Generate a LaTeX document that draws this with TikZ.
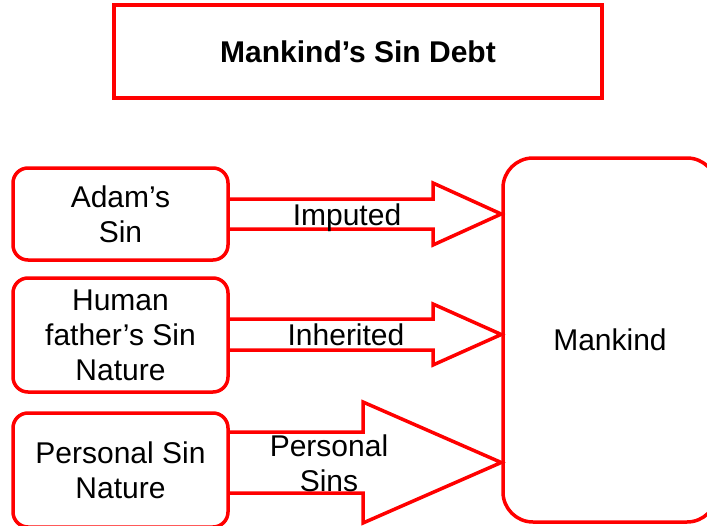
\documentclass[tikz,border=0pt]{standalone}
\usepackage{fontspec}
\setmainfont{Liberation Sans}
\usetikzlibrary{calc}
\definecolor{red1}{HTML}{FF0000}

\begin{document}
\begin{tikzpicture}[x=1pt, y=-1pt, line width=3.5pt, align=center,
  font=\fontsize{30}{35}\selectfont,
  box/.style={draw=red1, rounded corners=15pt, inner sep=0pt},
  blockarrow/.style={draw=red1, line join=miter}]
\clip (0,0) rectangle (707,525);

% title
\node[draw=red1, inner sep=0pt, minimum width=488pt, minimum height=93pt,
  font=\fontsize{30}{35}\selectfont\bfseries] (title) at (358,51.5) {Mankind's Sin Debt};

% sources
\node[box, minimum width=215pt, minimum height=92pt] (adam) at (120.5,214) {Adam's\\Sin};
\node[box, minimum width=215pt, minimum height=114pt] (human) at (120.5,335) {Human\\father's Sin\\Nature};
\node[box, minimum width=215pt, minimum height=114pt] (personal) at (120.5,470) {Personal Sin\\Nature};

% target
\node[box, rounded corners=30pt, minimum width=214pt, minimum height=364pt] (mankind) at (610,340) {Mankind};

% arrow heads start here
\coordinate (h1) at (433,214);
\coordinate (h2) at (433,334.5);
\coordinate (h3) at (363,462.5);

\draw[blockarrow] ([yshift=15pt]adam.east) -- ([yshift=15pt]h1) -- ([yshift=31pt]h1)
  -- (mankind.west |- h1) -- ([yshift=-31pt]h1) -- ([yshift=-15pt]h1) -- ([yshift=-15pt]adam.east);
\draw[blockarrow] ([yshift=15.5pt]human.east |- h2) -- ([yshift=15.5pt]h2) -- ([yshift=30.5pt]h2)
  -- (mankind.west |- h2) -- ([yshift=-30.5pt]h2) -- ([yshift=-15.5pt]h2) -- ([yshift=-15.5pt]human.east |- h2);
\draw[blockarrow] ([yshift=30.5pt]personal.east |- h3) -- ([yshift=30.5pt]h3) -- ([yshift=60.5pt]h3)
  -- (mankind.west |- h3) -- ([yshift=-60.5pt]h3) -- ([yshift=-30.5pt]h3) -- ([yshift=-30.5pt]personal.east |- h3);

% labels
\node (imputed) at (347,218) {Imputed};
\node (inherited) at (346,334.5) {Inherited};
\node (sins) at (329,463) {Personal\\Sins};
\end{tikzpicture}
\end{document}
